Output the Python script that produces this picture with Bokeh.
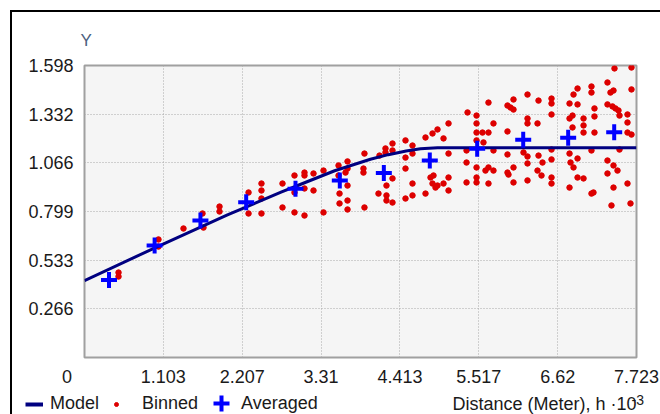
from bokeh.plotting import figure
from bokeh.layouts import column
from bokeh.models import (Legend, LegendItem, Label, FixedTicker, ColumnDataSource, Range1d)
from bokeh.embed import file_html
from bokeh.resources import INLINE

# ---------------- data ----------------
x_ticks = [0.0, 1.103, 2.207, 3.31, 4.413, 5.517, 6.62, 7.723]
x_tick_labels = ["0", "1.103", "2.207", "3.31", "4.413", "5.517", "6.62", "7.723"]
y_ticks = [0.266, 0.533, 0.799, 1.066, 1.332, 1.598]
y_tick_labels = ["0.266", "0.533", "0.799", "1.066", "1.332", "1.598"]

model_x = [0.0, 1.0, 2.0, 2.75, 3.0, 3.5, 4.0, 4.25, 4.5, 4.7, 4.94, 7.723]
model_y = [0.421, 0.603, 0.780, 0.905, 0.944, 1.022, 1.085, 1.110, 1.130, 1.142, 1.148, 1.148]

avg_x = [0.343, 0.981, 1.622, 2.262, 2.952, 3.572, 4.188, 4.831, 5.494, 6.138, 6.767, 7.411]
avg_y = [0.424, 0.613, 0.750, 0.850, 0.923, 0.969, 1.010, 1.078, 1.142, 1.191, 1.202, 1.233]

binned_x = [0.476,0.476,1.035,1.035,1.385,1.651,1.665,1.889,1.889,2.295,2.295,2.476,2.476,2.476,2.476,
            2.770,2.770,2.938,2.938,2.938,3.078,3.078,3.078,3.078,3.204,3.204,3.344,3.344,3.554,3.554,
            3.568,3.568,3.680,3.680,3.652,3.680,3.680,3.680,3.917,3.903,3.903,3.917,4.127,4.113,4.211,
            4.211,4.225,4.225,4.225,4.309,4.309,4.309,4.309,4.491,4.491,4.491,4.491,4.589,4.589,4.589,
            4.589,4.771,4.771,4.869,4.841,4.869,4.911,4.939,4.883,5.023,5.093,5.093,5.093,5.093,5.023,
            4.939,5.359,5.345,5.345,5.345,5.485,5.485,5.485,5.485,5.485,5.485,5.485,5.568,5.652,5.582,
            5.652,5.610,5.722,5.722,5.722,5.652,5.652,5.918,5.960,6.002,6.002,5.918,5.918,5.918,5.932,
            6.002,6.002,6.198,6.198,6.198,6.142,6.198,6.198,6.198,6.338,6.338,6.352,6.534,6.534,6.534,
            6.534,6.534,6.534,6.534,6.408,6.394,6.352,6.786,6.842,6.898,6.898,6.786,6.828,6.828,6.982,
            6.982,6.982,6.786,6.800,6.842,6.898,6.898,6.982,6.786,7.093,7.093,7.135,7.135,7.135,7.093,
            7.093,7.121,7.317,7.359,7.401,7.317,7.387,7.429,7.471,7.485,7.415,7.653,7.653,7.597,7.597,
            7.597,7.653,7.485,7.317,7.401,7.457,7.317,7.401,7.597,7.373,7.639]
binned_y = [0.465,0.443,0.646,0.607,0.706,0.788,0.711,0.826,0.799,0.903,0.788,0.952,0.914,0.870,0.788,
            0.952,0.821,0.996,0.903,0.794,1.012,0.996,0.925,0.777,1.007,0.914,1.023,0.794,1.051,0.996,
            0.897,0.843,1.073,1.034,1.012,0.941,0.859,0.810,1.116,1.034,1.012,0.821,1.105,0.897,1.144,
            1.122,0.941,0.887,0.859,1.171,1.133,0.980,0.848,1.188,1.094,1.034,0.870,1.160,1.116,0.952,
            0.887,1.204,0.897,1.226,0.985,0.952,0.930,1.248,0.996,1.199,1.281,1.116,0.985,0.914,0.952,
            0.941,1.341,1.133,1.067,0.958,1.324,1.281,1.231,1.188,1.040,0.985,0.958,1.231,1.231,1.177,
            1.040,1.023,1.281,1.133,1.023,0.952,1.395,1.379,1.368,1.412,1.357,1.237,1.111,1.012,1.001,
            1.040,0.958,1.439,1.308,1.281,1.122,1.100,1.062,0.969,1.281,1.023,1.406,1.417,1.390,1.330,
            1.138,1.084,0.985,0.952,1.067,0.996,1.105,1.390,1.439,1.472,1.385,1.308,1.324,1.259,1.308,
            1.270,1.231,1.116,1.067,1.040,1.089,0.985,0.980,0.930,1.483,1.450,1.363,1.319,1.231,1.133,
            0.897,0.903,1.505,1.450,1.461,1.385,1.374,1.363,1.352,1.324,1.582,1.587,1.467,1.330,1.286,
            1.231,1.220,1.138,1.078,1.051,1.023,1.007,0.930,0.952,0.832,0.843]

n = min(len(binned_x), len(binned_y))
binned_x, binned_y = binned_x[:n], binned_y[:n]

FONT = "Liberation Sans"
TXT = "#1a1a1a"

# ---------------- main chart ----------------
p = figure(frame_width=552, frame_height=292, x_range=Range1d(0, 7.723), y_range=Range1d(0, 1.598),
           output_backend="svg", toolbar_location=None,
           min_border_left=72, min_border_right=24, min_border_top=53, min_border_bottom=33)
p.frame_align = False

p.background_fill_color = "#f5f5f5"
p.border_fill_color = "white"
p.outline_line_color = "#a0a0a0"
p.outline_line_width = 2

# "Y" symbol above the axis
p.title.text = "Y"
p.title.align = "left"
p.title.offset = -4
p.title.text_font = FONT
p.title.text_font_size = "17px"
p.title.text_font_style = "normal"
p.title.text_color = "#4d5f80"
p.title.standoff = 32

for ax in (p.xaxis[0], p.yaxis[0]):
    ax.axis_line_color = None
    ax.major_tick_line_color = None
    ax.minor_tick_line_color = None
    ax.major_tick_out = 0
    ax.major_tick_in = 0
    ax.minor_tick_out = 0
    ax.minor_tick_in = 0
    ax.major_label_text_font = FONT
    ax.major_label_text_font_size = "18px"
    ax.major_label_text_color = TXT

NB = "\u00a0"
labels_x = [s + NB * 7 if s == "0" else s for s in x_tick_labels]
p.xaxis.ticker = FixedTicker(ticks=x_ticks)
p.xaxis.major_label_overrides = {t: s for t, s in zip(x_ticks, labels_x)}
p.xaxis.major_label_standoff = 9
p.yaxis.ticker = FixedTicker(ticks=y_ticks)
p.yaxis.major_label_overrides = {t: s for t, s in zip(y_ticks, y_tick_labels)}
p.yaxis.major_label_standoff = 11

for g in (p.xgrid[0], p.ygrid[0]):
    g.grid_line_color = "#a8a8a8"
    g.grid_line_dash = "1 2"
    g.grid_line_width = 1

p.scatter(binned_x, binned_y, marker="circle", size=5.5, fill_color="#dd0000", line_color="#dd0000")
p.line(model_x, model_y, line_color="#000080", line_width=3)
p.scatter(avg_x, avg_y, marker="cross", size=16, line_width=4, line_color="#0000ff")

# ---------------- legend / axis title strip ----------------
p2 = figure(width=648, height=24, x_range=Range1d(0, 648), y_range=Range1d(0, 24),
            output_backend="svg", toolbar_location=None, title=None,
            x_axis_type=None, y_axis_type=None, min_border=0)
p2.frame_align = False
p2.min_border_left = p2.min_border_right = p2.min_border_top = p2.min_border_bottom = 0
p2.grid.visible = False
p2.outline_line_color = None
p2.background_fill_color = "white"
p2.border_fill_color = "white"

# legend-only renderers: one point each, kept outside the visible range
off = ColumnDataSource(data=dict(x=[-1000.0], y=[-1000.0]))
r_model = p2.line("x", "y", source=off, line_color="#000080", line_width=4)
r_binned = p2.scatter("x", "y", source=off, marker="circle", size=4.5,
                      fill_color="#dd0000", line_color="#dd0000")
r_avg = p2.scatter("x", "y", source=off, marker="cross", size=18, line_width=4, line_color="#0000ff")

def add_legend(label, rend, x, y, gw, gh, standoff):
    lg = Legend(items=[LegendItem(label=label, renderers=[rend])], location=(x, y),
                orientation="horizontal", padding=0, margin=0, spacing=0,
                border_line_color=None, background_fill_alpha=0,
                glyph_width=gw, glyph_height=gh, label_standoff=standoff, label_height=18,
                label_text_font=FONT, label_text_font_size="18px", label_text_color=TXT)
    p2.add_layout(lg)

add_legend("Model", r_model, 13, 0, 18, 18, 7)
add_legend("Binned", r_binned, 99, 0, 10, 18, 21)
add_legend("Averaged", r_avg, 189, -9, 40, 40, 0)

p2.add_layout(Label(x=440, y=11, text="Distance (Meter), h \u00b710", text_align="left",
                    text_baseline="middle", text_font=FONT, text_font_size="18px", text_color=TXT))
p2.add_layout(Label(x=619, y=15, text="-3", text_align="left", text_baseline="middle",
                    text_font=FONT, text_font_size="14px", text_color=TXT))

layout = column(p, p2, spacing=0,
                styles={"margin-left": "10px", "margin-top": "10px",
                        "border-left": "2px solid black", "border-top": "2px solid black"})

open("out.html", "w").write(file_html(layout, INLINE))
